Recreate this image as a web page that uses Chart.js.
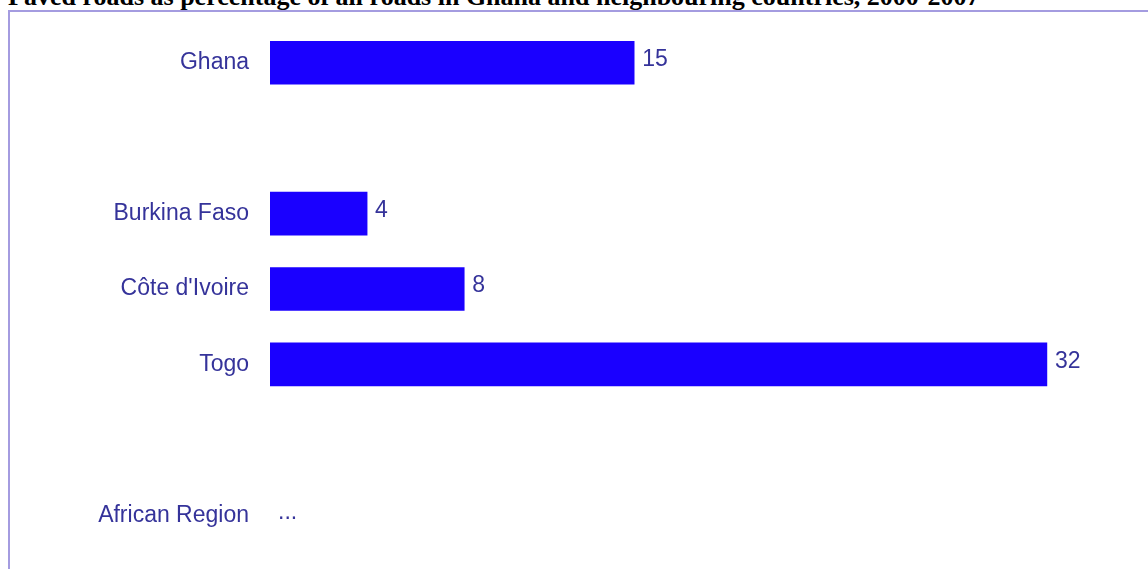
<!DOCTYPE html>
<html>
<head>
<meta charset="utf-8">
<script src="https://cdn.jsdelivr.net/npm/chart.js@4"></script>
<style>
  html, body { margin: 0; padding: 0; background: #fff; overflow: hidden; }
  #title {
    position: absolute; left: 8px; top: -14px; white-space: nowrap;
    font: bold 26px "Liberation Serif", "Times New Roman", serif; line-height: 22px; color: #000;
  }
  #frame {
    position: absolute; left: 8px; top: 10px; width: 1140px; height: 559px;
    border-left: 2px solid #a49ce0; border-top: 2px solid #a49ce0; box-sizing: border-box;
  }
  #wrap { position: absolute; left: 0; top: 0; width: 1148px; height: 569px; }
</style>
</head>
<body>
<div id="title">Paved roads as percentage of all roads in Ghana and neighbouring countries, 2000-2007</div>
<div id="frame"></div>
<div id="wrap"><canvas id="chartInfo"></canvas></div>
<script>
// categories and values (empty rows are gaps)
var countries = ['Ghana', '', 'Burkina Faso', "Côte d'Ivoire", 'Togo', '', 'African Region']
var paved = [15, null, 4, 8, 32, null, null]
var valueText = ['15', '', '4', '8', '32', '', '...']

var textColor = '#35339a'

//writes the value next to each bar
var valueLabels = {
    id: 'valueLabels',
    afterDatasetsDraw: function (chart) {
        var ctx = chart.ctx
        var xScale = chart.scales.x
        var yScale = chart.scales.y
        ctx.save()
        ctx.font = '23px "Liberation Sans", Arial, sans-serif'
        ctx.fillStyle = textColor
        ctx.textAlign = 'left'
        ctx.textBaseline = 'middle'
        for (var i = 0; i < countries.length; i++) {
            if (!valueText[i]) continue
            var v = paved[i] == null ? 0 : paved[i]
            ctx.fillText(valueText[i], xScale.getPixelForValue(v) + 8, yScale.getPixelForValue(i) - 3)
        }
        ctx.restore()
    }
}

var canvas = document.getElementById('chartInfo')
var ctx = canvas.getContext('2d')
var myChart = new Chart(ctx, {
    type: 'bar',
    data: {
        labels: countries,
        datasets: [{
            data: paved,
            backgroundColor: '#1a00ff',
            borderWidth: 0,
            barThickness: 43
        }]
    },
    plugins: [valueLabels],
    options: {
        indexAxis: 'y',
        responsive: true,
        maintainAspectRatio: false,
        animation: false,
        layout: { padding: { left: 0, right: 4, top: 25, bottom: 16 } },
        plugins: {
            legend: { display: false },
            tooltip: { enabled: false }
        },
        scales: {
            x: {
                min: 0, max: 36,
                display: false
            },
            y: {
                grid: { display: false },
                border: { display: false },
                ticks: {
                    color: textColor,
                    padding: 13,
                    font: { family: '"Liberation Sans", Arial, sans-serif', size: 23 }
                },
                afterFit: function (scale) {
                    scale.width = 270
                    scale.paddingTop = 0
                    scale.paddingBottom = 0
                }
            }
        }
    }
})
</script>
</body>
</html>
